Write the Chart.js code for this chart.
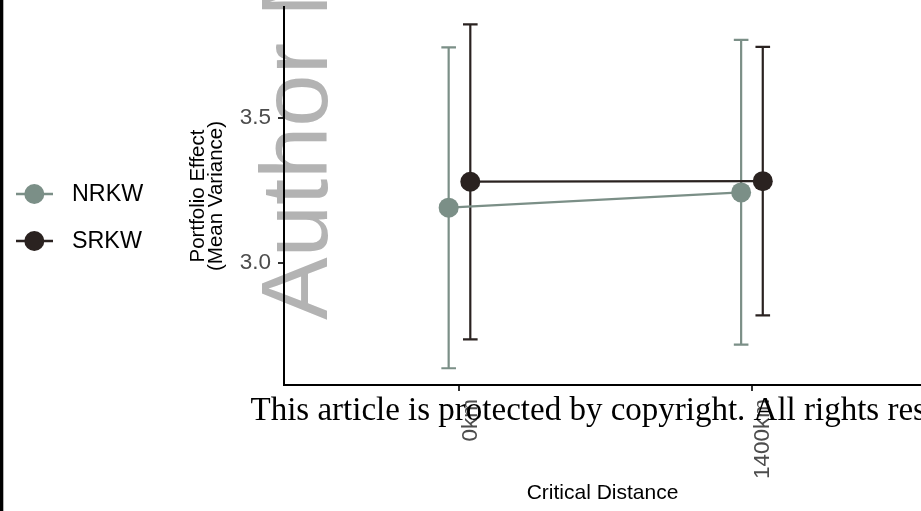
<!DOCTYPE html>
<html>
<head>
<meta charset="utf-8">
<script src="https://cdn.jsdelivr.net/npm/chart.js@4.4.1/dist/chart.umd.min.js"></script>
<style>
  html, body { margin: 0; padding: 0; overflow: hidden; background: #ffffff; }
  #wrap { position: relative; width: 921px; height: 511px; }
  #chart { display: block; width: 921px; height: 511px; }
</style>
</head>
<body>
<div id="wrap"><canvas id="chart" width="921" height="511"></canvas></div>
<script>
// Portfolio effect by critical distance, mean with interval, per population
const categories = ['0km', '1400km'];
const seriesNames = ['NRKW', 'SRKW'];

const nrkwMean  = [3.190, 3.243];
const nrkwLower = [2.634, 2.716];
const nrkwUpper = [3.745, 3.771];

const srkwMean  = [3.280, 3.282];
const srkwLower = [2.734, 2.817];
const srkwUpper = [3.825, 3.747];

const yTickValues = [3.0, 3.5];
const yLimits = [2.576, 3.885];
// category axis runs from 0.4; the panel is cut by the page edge a little before 2.6
const xLimits = [0.4, 2.578];

const seriesColors = ['#7B8F87', '#2A2220'];
const dodgeWidth = 0.074;   // horizontal separation of the two series, in category units
const capWidth = 0.05;      // error-bar cap width, in category units

const FONT = '"Liberation Sans", Arial, sans-serif';

function buildPoints(mean, lower, upper, shift) {
  return mean.map((m, i) => ({ x: i + 1 + shift, y: m, lo: lower[i], hi: upper[i] }));
}

const datasets = [
  { label: seriesNames[0], data: buildPoints(nrkwMean, nrkwLower, nrkwUpper, -dodgeWidth / 2) },
  { label: seriesNames[1], data: buildPoints(srkwMean, srkwLower, srkwUpper, dodgeWidth / 2) }
].map((d, i) => Object.assign(d, {
  showLine: true,
  borderColor: seriesColors[i],
  backgroundColor: seriesColors[i],
  borderWidth: 2.2,
  pointRadius: 10,
  pointBorderWidth: 0,
  pointBackgroundColor: seriesColors[i],
  order: 1 - i
}));

// vertical interval bars with caps, drawn under lines and points
const errorBars = {
  id: 'errorBars',
  beforeDatasetsDraw(chart) {
    const { ctx, scales: { x, y } } = chart;
    ctx.save();
    chart.data.datasets.forEach(ds => {
      ctx.strokeStyle = ds.borderColor;
      ctx.lineWidth = 2.2;
      ds.data.forEach(p => {
        const px = x.getPixelForValue(p.x);
        const half = x.getPixelForValue(p.x + capWidth / 2) - px;
        const yt = y.getPixelForValue(p.hi);
        const yb = y.getPixelForValue(p.lo);
        ctx.beginPath();
        ctx.moveTo(px, yt); ctx.lineTo(px, yb);
        ctx.moveTo(px - half, yt); ctx.lineTo(px + half, yt);
        ctx.moveTo(px - half, yb); ctx.lineTo(px + half, yb);
        ctx.stroke();
      });
    });
    ctx.restore();
  }
};

// key at the left: line through a dot, then the series name
const sideLegend = {
  id: 'sideLegend',
  afterDraw(chart) {
    const { ctx } = chart;
    const rows = [194, 241];
    ctx.save();
    chart.data.datasets.forEach((ds, i) => {
      const yy = rows[i];
      ctx.strokeStyle = ds.borderColor;
      ctx.lineWidth = 2.3;
      ctx.beginPath(); ctx.moveTo(16, yy); ctx.lineTo(53, yy); ctx.stroke();
      ctx.fillStyle = ds.borderColor;
      ctx.beginPath(); ctx.arc(34.3, yy, 10, 0, Math.PI * 2); ctx.fill();
      ctx.fillStyle = '#000000';
      ctx.font = '23.3px ' + FONT;
      ctx.textBaseline = 'middle';
      ctx.textAlign = 'left';
      ctx.fillText(ds.label, 72, yy + 1);
    });
    ctx.restore();
  }
};

// page furniture: edge rule, watermark and notice line
const pageMarks = {
  id: 'pageMarks',
  beforeDraw(chart) {
    const { ctx } = chart;
    ctx.save();
    ctx.fillStyle = '#000000';
    ctx.fillRect(0, 0, 3.3, 511);
    ctx.translate(327, 320);
    ctx.rotate(-Math.PI / 2);
    ctx.fillStyle = '#B3B3B3';
    ctx.font = '94px ' + FONT;
    ctx.textBaseline = 'alphabetic';
    ctx.textAlign = 'left';
    ctx.fillText('Author Manuscript', 0, 0);
    ctx.restore();
  },
  afterDraw(chart) {
    const { ctx } = chart;
    ctx.save();
    ctx.fillStyle = '#000000';
    ctx.font = '33px "Liberation Serif", "Times New Roman", serif';
    ctx.textBaseline = 'alphabetic';
    ctx.textAlign = 'left';
    ctx.fillText('This article is protected by copyright. All rights reserved', 250.5, 419.5);
    ctx.restore();
  }
};

new Chart(document.getElementById('chart'), {
  type: 'scatter',
  data: { datasets },
  plugins: [pageMarks, errorBars, sideLegend],
  options: {
    responsive: false,
    animation: false,
    devicePixelRatio: 1,
    layout: { autoPadding: false, padding: { left: 180, top: 7, right: 0, bottom: 0 } },
    plugins: { legend: { display: false }, tooltip: { enabled: false } },
    scales: {
      x: {
        type: 'linear',
        min: xLimits[0],
        max: xLimits[1],
        afterBuildTicks(s) { s.ticks = categories.map((c, i) => ({ value: i + 1 })); },
        afterFit(s) { s.height = 126; s.paddingLeft = 0; s.paddingRight = 0; },
        ticks: {
          autoSkip: false,
          minRotation: 90,
          maxRotation: 90,
          padding: 8,
          labelOffset: 11,
          color: '#4D4D4D',
          font: { family: FONT, size: 22.5 },
          callback: v => categories[Math.round(v) - 1]
        },
        grid: { drawOnChartArea: false, drawTicks: true, tickLength: 6, color: '#333333', lineWidth: 2 },
        border: { display: true, color: '#000000', width: 2 },
        title: {
          display: true,
          text: 'Critical Distance',
          color: '#000000',
          font: { family: FONT, size: 21 },
          padding: { top: 0, bottom: 5 }
        }
      },
      y: {
        min: yLimits[0],
        max: yLimits[1],
        afterBuildTicks(s) { s.ticks = yTickValues.map(v => ({ value: v })); },
        afterFit(s) { s.width = 104; s.paddingTop = 0; s.paddingBottom = 0; },
        ticks: {
          padding: 7,
          color: '#4D4D4D',
          font: { family: FONT, size: 22.5 },
          callback: v => Number(v).toFixed(1)
        },
        grid: { drawOnChartArea: false, drawTicks: true, tickLength: 6, color: '#333333', lineWidth: 2 },
        border: { display: true, color: '#000000', width: 2 },
        title: {
          display: true,
          text: ['Portfolio Effect', '(Mean Variance)'],
          color: '#000000',
          font: { family: FONT, size: 20.5, lineHeight: 0.9 },
          padding: { top: 8.8, bottom: 0 }
        }
      }
    }
  }
});
</script>
</body>
</html>
